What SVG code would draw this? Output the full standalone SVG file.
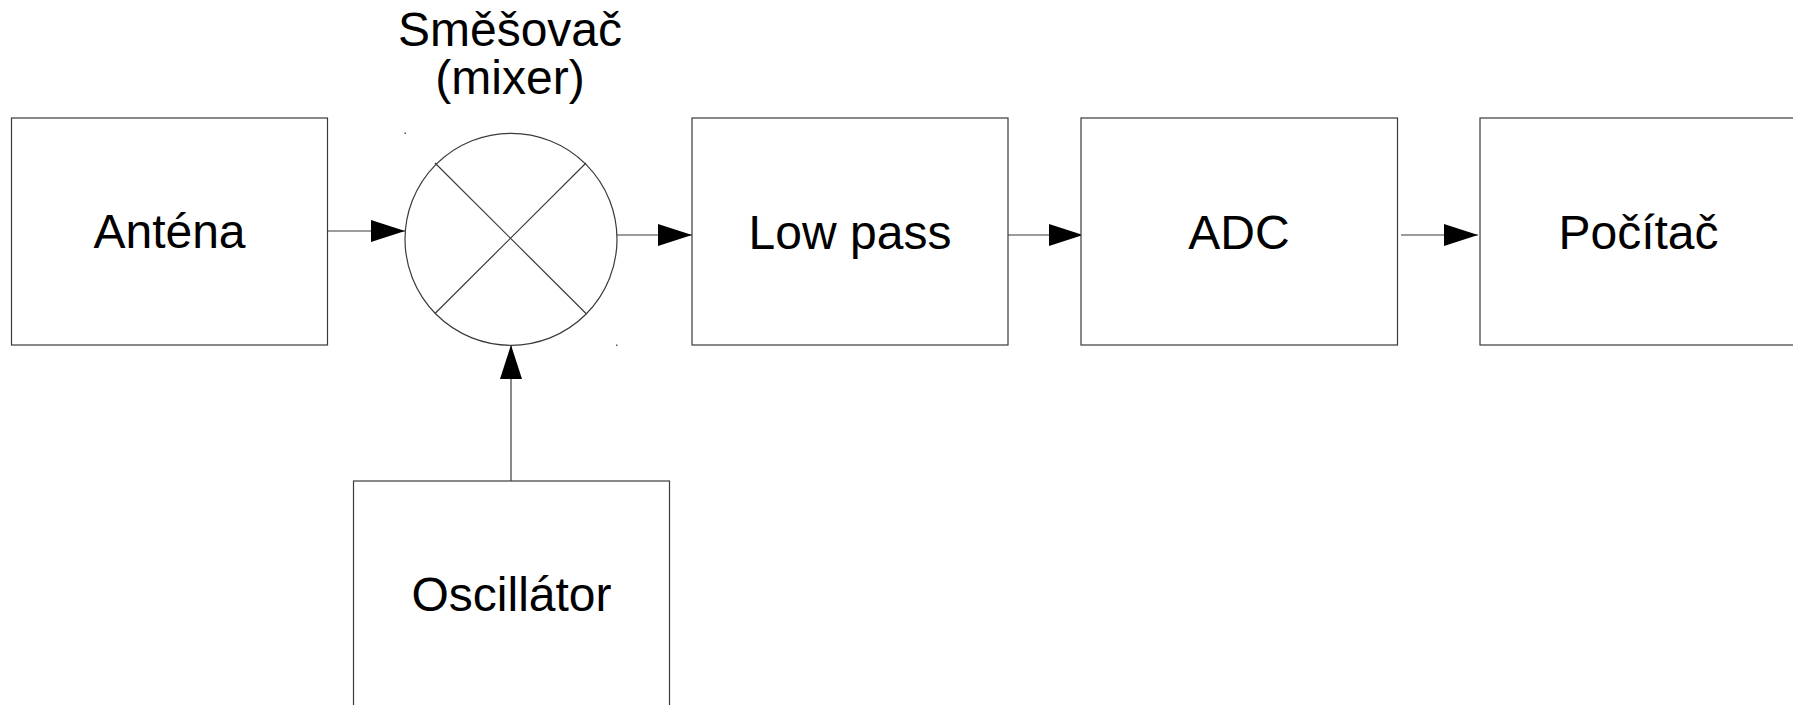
<svg xmlns="http://www.w3.org/2000/svg" width="1793" height="705" viewBox="0 0 1793 705">
  <style>
    .box { fill: #ffffff; stroke: #3a3a3a; stroke-width: 1.2; }
    .wire { fill: none; stroke: #3a3a3a; stroke-width: 1.2; }
    .label { font-family: "Liberation Sans", Arial, sans-serif; font-size: 48px; fill: #000000; text-anchor: middle; }
    .tick { fill: #555555; }
  </style>
  <defs>
    <marker id="arrow" markerUnits="userSpaceOnUse" markerWidth="34" markerHeight="22" refX="34" refY="11" orient="auto">
      <path d="M0,0 L34,11 L0,22 Z" fill="#000000"/>
    </marker>
  </defs>

  <rect width="1793" height="705" fill="#ffffff"/>

  <!-- signal chain connectors -->
  <g id="connectors">
    <path class="wire" d="M328,231 H405" marker-end="url(#arrow)"/>
    <path class="wire" d="M617,235 H692" marker-end="url(#arrow)"/>
    <path class="wire" d="M1008,235 H1083" marker-end="url(#arrow)"/>
    <path class="wire" d="M1401,235 H1478" marker-end="url(#arrow)"/>
    <path class="wire" d="M511,481 V345" marker-end="url(#arrow)"/>
  </g>

  <g id="antena">
    <rect class="box" x="11.5" y="118" width="316" height="227"/>
    <text class="label" x="169.5" y="248">Anténa</text>
  </g>

  <g id="mixer">
    <circle class="box" cx="511" cy="239.3" r="106"/>
    <line class="wire" x1="435" y1="163" x2="586" y2="313.5"/>
    <line class="wire" x1="586" y1="163" x2="435" y2="313.5"/>
    <rect class="tick" x="404.5" y="132.5" width="1.5" height="1.5"/>
    <rect class="tick" x="616" y="344.5" width="1.5" height="1.5"/>
    <text class="label" x="510" y="46">Směšovač</text>
    <text class="label" x="510" y="94">(mixer)</text>
  </g>

  <g id="lowpass">
    <rect class="box" x="692" y="118" width="316" height="227"/>
    <text class="label" x="850" y="249">Low pass</text>
  </g>

  <g id="adc">
    <rect class="box" x="1081" y="118" width="316.5" height="227"/>
    <text class="label" x="1239" y="249">ADC</text>
  </g>

  <g id="pocitac">
    <rect class="box" x="1480" y="118" width="316" height="227"/>
    <text class="label" x="1638.5" y="249">Počítač</text>
  </g>

  <g id="oscilator">
    <rect class="box" x="353.5" y="481" width="316" height="260"/>
    <text class="label" x="511.5" y="611">Oscillátor</text>
  </g>
</svg>
